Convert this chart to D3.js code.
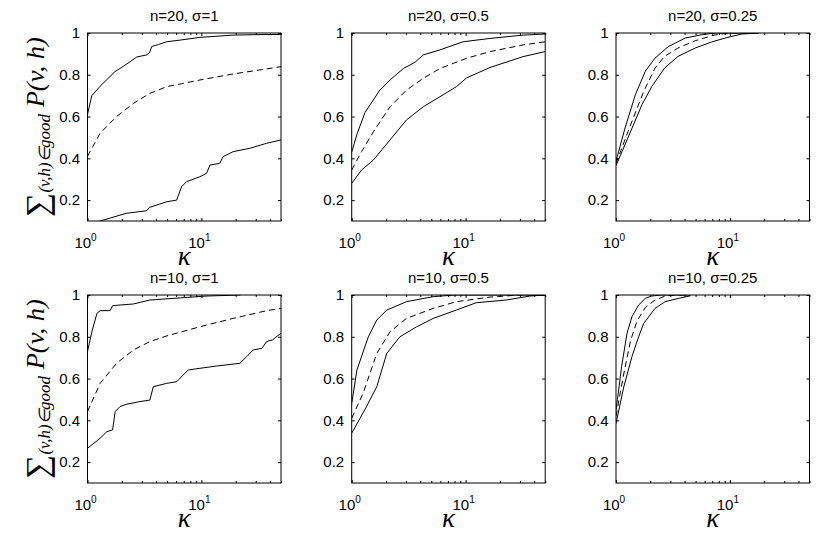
<!DOCTYPE html>
<html>
<head>
<meta charset="utf-8">
<script src="https://cdn.jsdelivr.net/npm/d3@7"></script>
<style>
  body { margin: 0; background: #fff; }
  svg { display: block; }
  .axis path { display: none; }
  .axis line { stroke: #000; stroke-width: 1; }
</style>
</head>
<body>
<div id="chart"></div>
<script>
// ---- data (kappa, fraction) ----
const titles = ["n=20, σ=1", "n=20, σ=0.5", "n=20, σ=0.25",
                "n=10, σ=1", "n=10, σ=0.5", "n=10, σ=0.25"];
const yTicks = [0.2, 0.4, 0.6, 0.8, 1];
const xTicks = [1, 10];
const xMinor = [2, 3, 4, 5, 6, 7, 8, 9, 20, 30, 40, 50];

const n20s1Upper = [[1,0.61],[1.09,0.70],[1.29,0.745],[1.5,0.78],[1.74,0.815],[2.06,0.84],[2.4,0.865],[2.7,0.885],[3.3,0.895],[3.5,0.905],[3.66,0.935],[4.2,0.945],[4.95,0.958],[6.5,0.966],[9.7,0.979],[14,0.985],[19,0.99],[30,0.992],[50,0.993]];
const n20s1Mid = [[1,0.41],[1.29,0.52],[1.8,0.60],[2.53,0.663],[3.53,0.711],[4.95,0.743],[9.7,0.775],[19,0.804],[30,0.82],[50,0.839]];
const n20s1Lower = [[1,0.085],[1.29,0.10],[1.6,0.115],[2.2,0.137],[3.3,0.149],[3.5,0.165],[4.95,0.192],[6.06,0.20],[6.7,0.264],[7.4,0.288],[9.7,0.312],[11.1,0.328],[11.9,0.368],[14.5,0.376],[15.5,0.408],[19,0.432],[26.6,0.448],[37.4,0.472],[50,0.488]];

const n20s05Upper = [[1,0.43],[1.12,0.52],[1.31,0.62],[1.77,0.727],[2.17,0.775],[2.84,0.83],[3.6,0.86],[4.25,0.895],[5.95,0.919],[9.5,0.958],[16.4,0.974],[32,0.99],[50,0.995]];
const n20s05Mid = [[1,0.344],[1.22,0.432],[1.55,0.527],[2.17,0.647],[3.03,0.727],[4.25,0.783],[5.95,0.83],[10.2,0.879],[16.4,0.911],[32,0.943],[50,0.958]];
const n20s05Lower = [[1,0.28],[1.22,0.344],[1.55,0.392],[2.17,0.488],[3.03,0.584],[4.25,0.647],[5.95,0.695],[8.3,0.743],[10.2,0.785],[16.4,0.835],[32,0.887],[50,0.911]];

const n20s025Upper = [[1,0.386],[1.2,0.545],[1.48,0.705],[1.81,0.817],[2.2,0.88],[2.9,0.936],[4.06,0.976],[5.7,0.992],[7.5,1],[18,1]];
const n20s025Mid = [[1,0.375],[1.31,0.545],[1.75,0.72],[2.2,0.832],[2.67,0.888],[3.5,0.928],[4.96,0.963],[7.3,0.99],[10,1],[18,1]];
const n20s025Lower = [[1,0.365],[1.27,0.497],[1.69,0.657],[2.07,0.745],[2.67,0.832],[3.5,0.888],[4.96,0.928],[6.9,0.957],[9.4,0.978],[12.7,0.995],[18,1]];

const n10s1Upper = [[1,0.73],[1.1,0.83],[1.21,0.912],[1.29,0.925],[1.58,0.925],[1.66,0.949],[2.53,0.957],[3.53,0.976],[6.9,0.987],[11,0.995],[22,1]];
const n10s1Mid = [[1,0.442],[1.29,0.577],[1.8,0.673],[2.53,0.737],[3.53,0.777],[4.95,0.804],[9.7,0.848],[19,0.888],[37.4,0.925],[50,0.936]];
const n10s1Lower = [[1,0.266],[1.29,0.314],[1.48,0.346],[1.66,0.354],[1.75,0.442],[1.93,0.466],[2.2,0.477],[2.89,0.49],[3.53,0.497],[3.78,0.561],[4.95,0.577],[6.06,0.585],[7.67,0.641],[9.7,0.649],[13.6,0.66],[21.8,0.673],[25,0.705],[28.5,0.737],[34,0.745],[37.4,0.777],[42,0.785],[50,0.817]];

const n10s05Upper = [[1,0.48],[1.11,0.64],[1.4,0.80],[1.66,0.88],[2.03,0.928],[3.03,0.968],[5.2,0.992],[8,1],[50,1]];
const n10s05Mid = [[1,0.41],[1.26,0.53],[1.66,0.72],[2.17,0.824],[3.03,0.888],[5.2,0.936],[8.3,0.968],[16.4,0.99],[30,1],[50,1]];
const n10s05Lower = [[1,0.338],[1.35,0.466],[1.66,0.561],[2.03,0.72],[2.65,0.80],[3.72,0.848],[5.2,0.888],[8.3,0.928],[12.4,0.963],[22.8,0.976],[36.7,0.995],[50,1]];

const n10s025Upper = [[1,0.45],[1.03,0.50],[1.12,0.657],[1.25,0.817],[1.38,0.896],[1.58,0.952],[1.81,0.984],[2.05,0.995],[2.5,1],[4.5,1]];
const n10s025Mid = [[1,0.42],[1.17,0.623],[1.34,0.78],[1.53,0.876],[1.81,0.94],[2.2,0.976],[2.7,0.995],[3.3,1],[4.5,1]];
const n10s025Lower = [[1,0.385],[1.17,0.56],[1.38,0.705],[1.58,0.80],[1.75,0.864],[1.94,0.896],[2.2,0.936],[2.7,0.968],[3.55,0.984],[4.5,0.996]];

const panels = [
  [n20s1Upper, n20s1Mid, n20s1Lower],
  [n20s05Upper, n20s05Mid, n20s05Lower],
  [n20s025Upper, n20s025Mid, n20s025Lower],
  [n10s1Upper, n10s1Mid, n10s1Lower],
  [n10s05Upper, n10s05Mid, n10s05Lower],
  [n10s025Upper, n10s025Mid, n10s025Lower]
];

// ---- layout ----
const width = 830, height = 539;
const colLeft = [87.5, 351.7, 616];
const rowTop = [33, 295];
const pw = 193.5, ph = 188;
const sansFont = '"Liberation Sans", Arial, Helvetica, sans-serif';
const mathFont = '"Liberation Serif", "DejaVu Serif", serif';

const svg = d3.select('#chart').append('svg')
  .attr('width', width)
  .attr('height', height);

const x = d3.scaleLog().domain([1, 50]).range([0, pw]);
const y = d3.scaleLinear().domain([0.1, 1]).range([ph, 0]);

const line = d3.line()
  .x(d => x(d[0]))
  .y(d => y(d[1]));

panels.forEach((curves, i) => {
  const col = i % 3, row = Math.floor(i / 3);
  const g = svg.append('g')
    .attr('transform', `translate(${colLeft[col]},${rowTop[row]})`);

  g.append('clipPath').attr('id', 'clip' + i)
    .append('rect').attr('width', pw).attr('height', ph);

  // inward ticks on all four sides (matlab style)
  g.append('g').attr('class', 'axis')
    .attr('transform', `translate(0,${ph})`)
    .call(d3.axisBottom(x).tickValues(xTicks).tickSize(-3).tickFormat(''));
  g.append('g').attr('class', 'axis')
    .attr('transform', `translate(0,${ph})`)
    .call(d3.axisBottom(x).tickValues(xMinor).tickSize(-2).tickFormat(''));
  g.append('g').attr('class', 'axis')
    .call(d3.axisTop(x).tickValues(xTicks).tickSize(-3).tickFormat(''));
  g.append('g').attr('class', 'axis')
    .call(d3.axisTop(x).tickValues(xMinor).tickSize(-2).tickFormat(''));
  const ya = g.append('g').attr('class', 'axis')
    .call(d3.axisLeft(y).tickValues(yTicks).tickSize(-3).tickPadding(7).tickFormat(d3.format('')));
  ya.selectAll('text')
    .style('font-family', sansFont)
    .style('font-size', '15px')
    .attr('dx', -0.5);
  g.append('g').attr('class', 'axis')
    .attr('transform', `translate(${pw},0)`)
    .call(d3.axisRight(y).tickValues(yTicks).tickSize(-3).tickFormat(''));

  // x tick labels as 10^n
  xTicks.forEach(t => {
    const txt = g.append('text')
      .attr('x', x(t) - 2)
      .attr('y', ph + 27)
      .attr('text-anchor', 'middle')
      .style('font-family', sansFont)
      .style('font-size', '15px');
    txt.append('tspan').text('10');
    txt.append('tspan').attr('dy', -7).style('font-size', '10px').text(Math.round(Math.log10(t)));
  });

  g.append('rect')
    .attr('width', pw).attr('height', ph)
    .attr('fill', 'none').attr('stroke', '#000').attr('stroke-width', 1);

  g.append('text')
    .attr('x', pw / 2).attr('y', -12)
    .attr('text-anchor', 'middle')
    .style('font-family', sansFont)
    .style('font-size', '15px')
    .text(titles[i]);

  g.append('text')
    .attr('x', pw / 2).attr('y', ph + 44)
    .attr('text-anchor', 'middle')
    .style('font-family', mathFont)
    .style('font-style', 'italic')
    .style('font-size', '27px')
    .text('κ');

  const plot = g.append('g').attr('clip-path', `url(#clip${i})`);
  curves.forEach((c, j) => {
    plot.append('path')
      .datum(c)
      .attr('d', line)
      .attr('fill', 'none')
      .attr('stroke', '#000')
      .attr('stroke-width', 1)
      .attr('stroke-dasharray', j === 1 ? '6,4' : null);
  });

  if (col === 0) {
    const holder = svg.append('g')
      .attr('transform', `translate(${colLeft[0] - 44},${rowTop[row] + ph / 2}) rotate(-90)`);
    const lab = holder.append('text')
      .attr('text-anchor', 'middle')
      .style('font-family', '"Liberation Serif", serif')
      .style('font-style', 'italic');
    lab.append('tspan').style('font-style', 'normal').style('font-size', '32px').attr('dy', 4).text('∑');
    lab.append('tspan').style('font-size', '16px').attr('dy', 2).text('(v,h)∈good');
    lab.append('tspan').style('font-size', '25px').attr('dy', -6).text(' P(v, h)');
    // fit the label to the height it takes in the figure
    const len = lab.node().getComputedTextLength();
    lab.attr('transform', `scale(${180 / len},1)`);
  }
});
</script>
</body>
</html>
